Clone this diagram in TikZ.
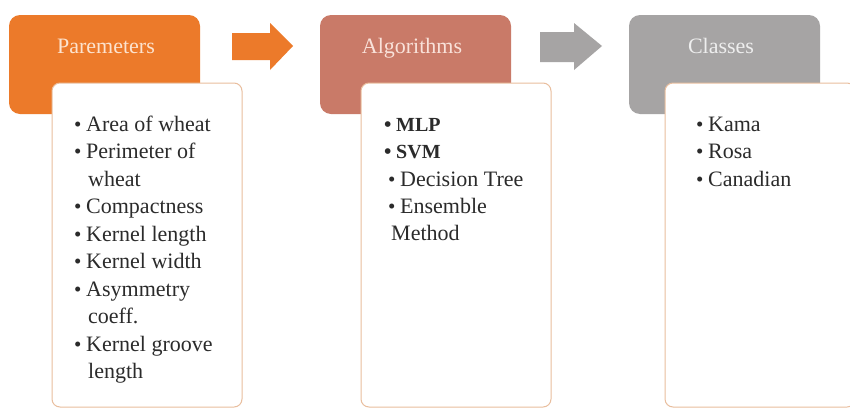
\documentclass[tikz,border=0pt]{standalone}
\usepackage{fontspec}
\setmainfont{Liberation Serif}
\definecolor{hdrOrange}{HTML}{EC7A2A}
\definecolor{hdrSalmon}{HTML}{C97A68}
\definecolor{hdrGrey}{HTML}{A6A4A4}
\definecolor{txtOrange}{HTML}{FCE3CF}
\definecolor{txtSalmon}{HTML}{F9E2DA}
\definecolor{txtGrey}{HTML}{EEEEEE}
\definecolor{cardLine}{HTML}{E9BE9E}
\definecolor{itemText}{HTML}{2B2B2B}
\newcommand{\bulletmark}{\makebox[12pt][l]{\fontsize{21}{21}\selectfont •}}
\tikzset{
  hdrbox/.style={rectangle, rounded corners=11pt, minimum width=191pt,
    minimum height=99pt, inner sep=0pt, draw=none},
  hdrtext/.style={anchor=base, inner sep=0pt, font=\fontsize{22}{26}\selectfont},
  card/.style={rectangle, rounded corners=8pt, fill=white, draw=cardLine,
    line width=1pt, minimum width=190pt, minimum height=324pt, inner sep=0pt},
  item/.style={anchor=base west, inner sep=0pt, text=itemText,
    font=\fontsize{22}{26}\selectfont}
}
\begin{document}
\begin{tikzpicture}[x=1pt,y=-1pt]
\useasboundingbox[fill=white] (0,0) rectangle (850,410);

% header boxes
\node[hdrbox, fill=hdrOrange] (hParam) at (104.5,64.5) {};
\node[hdrbox, fill=hdrSalmon] (hAlgo)  at (415.5,64.5) {};
\node[hdrbox, fill=hdrGrey]   (hClass) at (724.5,64.5) {};

\node[hdrtext, text=txtOrange] (tParam) at (106,53) {Paremeters};
\node[hdrtext, text=txtSalmon] (tAlgo)  at (412,53) {Algorithms};
\node[hdrtext, text=txtGrey]   (tClass) at (721,53) {Classes};

% block arrows between the headers
\fill[hdrOrange] (232,33) -- (270,33) -- (270,23) -- (293,46) -- (270,70)
  -- (270,60) -- (232,60) -- cycle;
\fill[hdrGrey] (540,32) -- (574,32) -- (574,23) -- (602,46) -- (574,70)
  -- (574,62) -- (540,62) -- cycle;

% content cards
\node[card] (cParam) at (147,245) {};
\node[card] (cAlgo)  at (456,245) {};
\node[card] (cClass) at (760,245) {};

% parameters
\node[item] (p1)  at (86,131)   {\llap{\bulletmark}Area of wheat};
\node[item] (p2)  at (86,158.5) {\llap{\bulletmark}Perimeter of};
\node[item] (p3)  at (88,186)   {wheat};
\node[item] (p4)  at (86,213.5) {\llap{\bulletmark}Compactness};
\node[item] (p5)  at (86,241)   {\llap{\bulletmark}Kernel length};
\node[item] (p6)  at (86,268.5) {\llap{\bulletmark}Kernel width};
\node[item] (p7)  at (86,296)   {\llap{\bulletmark}Asymmetry};
\node[item] (p8)  at (88,323.5) {coeff.};
\node[item] (p9)  at (86,351)   {\llap{\bulletmark}Kernel groove};
\node[item] (p10) at (88,378.5) {length};

% algorithms
\node[item, font=\fontsize{20}{26}\selectfont\bfseries] (a1) at (396,131)
  {\llap{\bulletmark}MLP};
\node[item, font=\fontsize{20}{26}\selectfont\bfseries] (a2) at (396,158.5)
  {\llap{\bulletmark}SVM};
\node[item] (a3) at (400,186)   {\llap{\bulletmark}Decision Tree};
\node[item] (a4) at (400,213.5) {\llap{\bulletmark}Ensemble};
\node[item] (a5) at (391,240)   {Method};

% classes
\node[item] (k1) at (708,131)   {\llap{\bulletmark}Kama};
\node[item] (k2) at (708,158.5) {\llap{\bulletmark}Rosa};
\node[item] (k3) at (708,186)   {\llap{\bulletmark}Canadian};
\end{tikzpicture}
\end{document}
